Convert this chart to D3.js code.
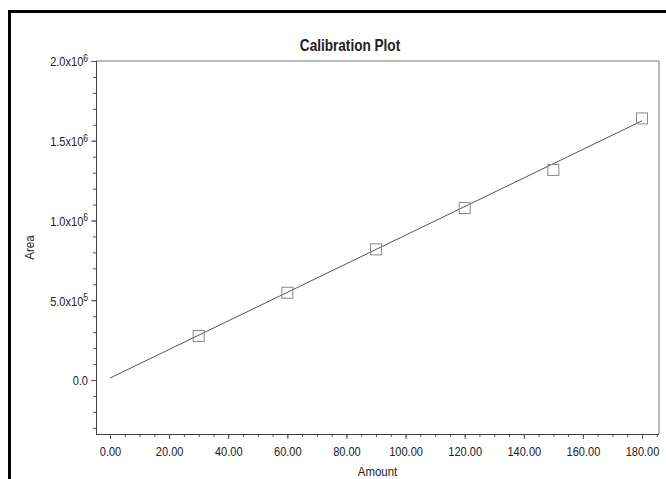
<!DOCTYPE html>
<html>
<head>
<meta charset="utf-8">
<script src="https://cdn.jsdelivr.net/npm/d3@7"></script>
<style>
  body { margin: 0; background: #fff; }
  text { font-family: "Liberation Sans", Arial, sans-serif; fill: #222; }
</style>
</head>
<body>
<svg width="666" height="479"></svg>
<script>
const width = 666;
const height = 479;

// calibration points
const amounts = [30, 60, 90, 120, 150, 180];
const areas = [276000, 547000, 819000, 1078000, 1317000, 1640000];

// fitted line end points
const fitAmounts = [0, 180];
const fitAreas = [12000, 1625000];

const xTicks = [0, 20, 40, 60, 80, 100, 120, 140, 160, 180];
const yTicks = [0, 500000, 1000000, 1500000, 2000000];
const yTickLabels = [["0.0", ""], ["5.0x10", "5"], ["1.0x10", "6"], ["1.5x10", "6"], ["2.0x10", "6"]];

const plotLeft = 96, plotRight = 659, plotTop = 61, plotBottom = 434;
const squeeze = 0.85; // scanned text looks narrow

const svg = d3.select("svg");

// scan frame
svg.append("line").attr("x1", 9.5).attr("y1", 11).attr("x2", 9.5).attr("y2", height)
	.attr("stroke", "#000").attr("stroke-width", 3);
svg.append("line").attr("x1", 8).attr("y1", 11.5).attr("x2", width).attr("y2", 11.5)
	.attr("stroke", "#000").attr("stroke-width", 3);

const x = d3.scaleLinear().domain([-4.74, 185.75]).range([plotLeft, plotRight]);
const y = d3.scaleLinear().domain([-338600, 2000000]).range([plotBottom, plotTop]);

// box
svg.append("path")
	.attr("d", `M${plotLeft},${plotTop}H${plotRight}V${plotBottom}`)
	.attr("fill", "none").attr("stroke", "#777").attr("stroke-width", 1);

// x axis
const xAxis = svg.append("g").attr("transform", `translate(0,${plotBottom})`);
xAxis.call(d3.axisBottom(x).tickValues(d3.range(0, 186, 5)).tickSize(3).tickFormat(""))
	.call(g => g.select(".domain").remove());
xAxis.append("g").call(d3.axisBottom(x).tickValues(xTicks).tickSize(5).tickPadding(8).tickFormat(d => d.toFixed(2)))
	.call(g => g.select(".domain").remove())
	.call(g => g.selectAll("text").attr("font-size", 13).attr("fill", "#222")
		.attr("transform", `scale(${squeeze},1)`));
xAxis.selectAll("line").attr("stroke", "#555");
svg.append("line").attr("x1", plotLeft).attr("x2", plotRight).attr("y1", plotBottom + 0.5).attr("y2", plotBottom + 0.5)
	.attr("stroke", "#444");

// y axis
const yAxis = svg.append("g").attr("transform", `translate(${plotLeft},0)`);
yAxis.call(d3.axisLeft(y).tickValues(d3.range(-300000, 2000001, 100000)).tickSize(3).tickFormat(""))
	.call(g => g.select(".domain").remove());
const yMajor = yAxis.append("g").call(d3.axisLeft(y).tickValues(yTicks).tickSize(5).tickFormat(""))
	.call(g => g.select(".domain").remove());
yAxis.selectAll("line").attr("stroke", "#555");
svg.append("line").attr("x1", plotLeft + 0.5).attr("x2", plotLeft + 0.5).attr("y1", plotTop).attr("y2", plotBottom)
	.attr("stroke", "#444");

yMajor.selectAll(".tick").each(function(d, i) {
	const t = d3.select(this).append("text")
		.attr("transform", `scale(${squeeze},1)`)
		.attr("x", -8 / squeeze).attr("dy", "0.38em")
		.attr("text-anchor", "end").attr("font-size", 13).attr("fill", "#222");
	t.append("tspan").text(yTickLabels[i][0]);
	if (yTickLabels[i][1]) {
		t.append("tspan").attr("dy", "-0.45em").attr("font-size", 10).text(yTickLabels[i][1]);
	}
});

// fit line
const line = d3.line().x(d => x(d[0])).y(d => y(d[1]));
svg.append("path")
	.datum(d3.zip(fitAmounts, fitAreas))
	.attr("d", line)
	.attr("fill", "none").attr("stroke", "#555").attr("stroke-width", 1);

// points
svg.append("g").selectAll("rect")
	.data(d3.zip(amounts, areas))
	.join("rect")
	.attr("x", d => x(d[0]) - 5.5)
	.attr("y", d => y(d[1]) - 5.5)
	.attr("width", 11).attr("height", 11)
	.attr("fill", "none").attr("stroke", "#888").attr("stroke-width", 1);

// titles
svg.append("text").attr("transform", `translate(350,51)scale(${squeeze},1)`).attr("text-anchor", "middle")
	.attr("font-size", 16).attr("font-weight", "bold").text("Calibration Plot");
svg.append("text").attr("transform", `translate(${(plotLeft + plotRight) / 2},476)scale(0.88,1)`).attr("text-anchor", "middle")
	.attr("font-size", 13).text("Amount");
svg.append("text").attr("transform", `translate(34,${(plotTop + plotBottom) / 2})rotate(-90)scale(0.9,1)`)
	.attr("text-anchor", "middle").attr("font-size", 13).text("Area");
</script>
</body>
</html>
